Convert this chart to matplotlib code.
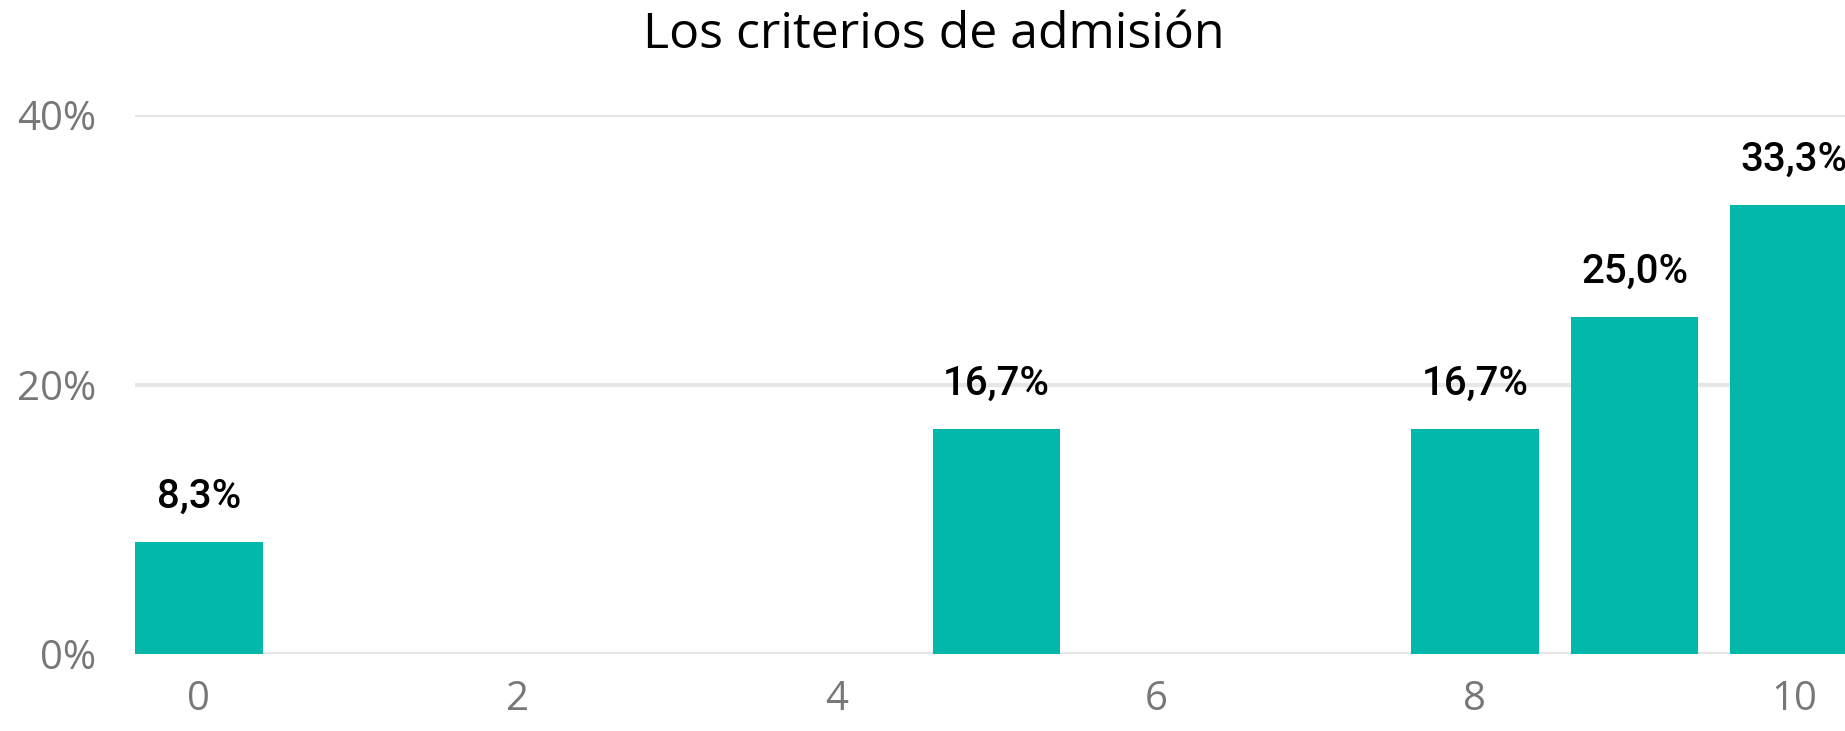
import matplotlib
matplotlib.use("Agg")
import matplotlib.pyplot as plt
from matplotlib.ticker import FuncFormatter

title = "Los criterios de admisión"
scores = [0, 5, 8, 9, 10]
percents = [8.3, 16.7, 16.7, 25.0, 33.3]
labels = ["8,3%", "16,7%", "16,7%", "25,0%", "33,3%"]
xticks = [0, 2, 4, 6, 8, 10]
yticks = [0, 20, 40]

fig = plt.figure(figsize=(18.45, 7.31), dpi=100)
ax = fig.add_axes([0.0732, 0.105, 0.9268, 0.738])

ax.bar(scores, percents, width=0.8, color="#01B8AA", zorder=3)
for x, v, lab in zip(scores, percents, labels):
    t = ax.annotate(lab, (x, v), xytext=(0, 19), textcoords="offset points",
                    ha="center", va="bottom", fontsize=29, family="Roboto",
                    fontweight="medium", color="black", clip_on=False)

ax.set_xlim(-0.4, 10.32)
ax.set_ylim(0, 40)
ax.set_yticks(yticks)
ax.set_xticks(xticks)
ax.yaxis.set_major_formatter(FuncFormatter(lambda v, p: f"{v:.0f}%"))
ax.grid(axis="y", color="#e6e6e6", linewidth=3, zorder=0)
ax.set_axisbelow(True)
for s in ax.spines.values():
    s.set_visible(False)
ax.tick_params(axis="both", length=0, labelsize=29, labelcolor="#777777")
ax.tick_params(axis="y", pad=28)
ax.tick_params(axis="x", pad=18)
for t in ax.get_xticklabels() + ax.get_yticklabels():
    t.set_family("Open Sans")

fig.text(0.506, 0.985, title, ha="center", va="top", fontsize=36,
         family="Open Sans", color="black")

fig.savefig("out.png", dpi=100)
